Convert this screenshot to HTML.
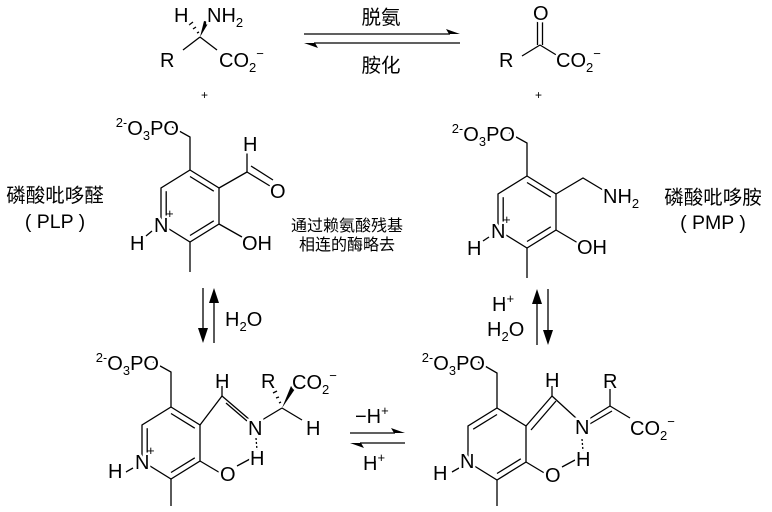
<!DOCTYPE html>
<html><head><meta charset="utf-8"><style>
html,body{margin:0;padding:0;background:#fff;}
svg{display:block;}
text{font-family:"Liberation Sans","Noto Sans CJK SC",sans-serif;fill:#000;}
.a{font-size:20px;stroke:#fff;stroke-width:5px;paint-order:stroke;}
.s{font-size:13px;}
.c{font-size:19.5px;}
.c2{font-size:16px;}
line,polyline,polygon.r{stroke:#000;stroke-width:1.3;fill:none;}
</style></head><body>
<svg width="772" height="512" viewBox="0 0 772 512" xmlns="http://www.w3.org/2000/svg">
<defs>
<g id="ring">
<polygon class="r" points="0,-36 29,-18 29,18 0,36 -29,18 -29,-18"/>
</g>
</defs>

<!-- ===== Top row ===== -->
<line x1="200" y1="37" x2="183" y2="50"/>
<line x1="200" y1="37" x2="217" y2="50"/>
<polygon points="200,37 204,21 209,22" fill="#000"/>
<g stroke="#000" stroke-width="1.2">
<line x1="197" y1="33" x2="199" y2="32"/><line x1="193" y1="29" x2="196" y2="27"/><line x1="189" y1="25" x2="193" y2="22"/>
</g>
<text class="a" x="160" y="67">R</text>
<text class="a" x="219" y="67">CO<tspan class="s" dy="5">2</tspan><tspan class="s" dy="-14">−</tspan></text>
<text class="a" x="174" y="22">H</text>
<text class="a" x="207" y="22">NH<tspan class="s" dy="5">2</tspan></text>
<text x="201" y="99" style="font-size:12px">+</text>

<line x1="304" y1="34" x2="450" y2="34"/>
<polygon points="460,34 446,29 449,34" fill="#000"/>
<line x1="314" y1="43" x2="460" y2="43"/>
<polygon points="304,43 318,48 315,43" fill="#000"/>
<text class="c" x="381" y="24" text-anchor="middle">脱氨</text>
<text class="c" x="381" y="72" text-anchor="middle">胺化</text>

<line x1="540" y1="45" x2="522" y2="56"/>
<line x1="540" y1="45" x2="558" y2="56"/>
<line x1="537.5" y1="45" x2="537.5" y2="21"/>
<line x1="542.5" y1="45" x2="542.5" y2="21"/>
<text class="a" x="533" y="20">O</text>
<text class="a" x="499" y="67">R</text>
<text class="a" x="556" y="67">CO<tspan class="s" dy="5">2</tspan><tspan class="s" dy="-14">−</tspan></text>
<text x="535" y="99" style="font-size:12px">+</text>

<!-- ===== PLP ===== -->
<use href="#ring" x="190" y="206"/>
<g transform="translate(190,206)">
<line x1="-23.8" y1="-14.8" x2="-23.8" y2="14.8"/>
<line x1="0" y1="-29.5" x2="23.8" y2="-14.8"/>
<line x1="23.8" y1="14.8" x2="0" y2="29.5"/>
</g>
<polyline points="190,170 190,137 172,127"/>
<line x1="219" y1="188" x2="247" y2="172"/>
<line x1="247" y1="172" x2="247" y2="152"/>
<line x1="247" y1="172" x2="270" y2="186"/>
<line x1="251" y1="166" x2="273" y2="180"/>
<line x1="219" y1="224" x2="242" y2="237"/>
<line x1="190" y1="242" x2="190" y2="272"/>
<line x1="152" y1="231" x2="146" y2="236"/>
<text class="a" x="179" y="135" text-anchor="end"><tspan class="s" dy="-8">2-</tspan><tspan dy="8">O</tspan><tspan class="s" dy="5">3</tspan><tspan dy="-5">PO</tspan></text>
<text class="a" x="243" y="151">H</text>
<text class="a" x="270" y="198">O</text>
<text class="a" x="242" y="250">OH</text>
<text class="a" x="154" y="232">N</text>
<text class="s" x="166" y="218">+</text>
<text class="a" x="130" y="250">H</text>
<text class="c" x="55" y="202" text-anchor="middle">磷酸吡哆醛</text>
<text class="c" x="55" y="228" text-anchor="middle">( PLP )</text>
<text class="c2" x="347" y="231" text-anchor="middle">通过赖氨酸残基</text>
<text class="c2" x="347" y="250" text-anchor="middle">相连的酶略去</text>

<!-- ===== PMP ===== -->
<use href="#ring" x="527" y="212"/>
<g transform="translate(527,212)">
<line x1="-23.8" y1="-14.8" x2="-23.8" y2="14.8"/>
<line x1="0" y1="-29.5" x2="23.8" y2="-14.8"/>
<line x1="23.8" y1="14.8" x2="0" y2="29.5"/>
</g>
<polyline points="527,176 527,143 509,133"/>
<polyline points="556,194 583,178 603,190"/>
<line x1="556" y1="230" x2="578" y2="243"/>
<line x1="527" y1="248" x2="527" y2="278"/>
<line x1="489" y1="237" x2="483" y2="241"/>
<text class="a" x="515" y="141" text-anchor="end"><tspan class="s" dy="-8">2-</tspan><tspan dy="8">O</tspan><tspan class="s" dy="5">3</tspan><tspan dy="-5">PO</tspan></text>
<text class="a" x="603" y="203">NH<tspan class="s" dy="5">2</tspan></text>
<text class="a" x="577" y="254">OH</text>
<text class="a" x="491" y="238">N</text>
<text class="s" x="503" y="224">+</text>
<text class="a" x="467" y="255">H</text>
<text class="c" x="713" y="204" text-anchor="middle">磷酸吡哆胺</text>
<text class="c" x="713" y="229" text-anchor="middle">( PMP )</text>

<!-- vertical arrows -->
<line x1="203" y1="288" x2="203" y2="332"/>
<polygon points="203,343 198,328 208,328" fill="#000"/>
<line x1="214" y1="343" x2="214" y2="299"/>
<polygon points="214,288 209,303 219,303" fill="#000"/>
<text class="a" x="225" y="326">H<tspan class="s" dy="5">2</tspan><tspan dy="-5">O</tspan></text>

<line x1="537" y1="345" x2="537" y2="300"/>
<polygon points="537,289 532,304 542,304" fill="#000"/>
<line x1="548" y1="289" x2="548" y2="334"/>
<polygon points="548,345 543,330 553,330" fill="#000"/>
<text class="a" x="492" y="311">H<tspan class="s" dy="-8">+</tspan></text>
<text class="a" x="487" y="336">H<tspan class="s" dy="5">2</tspan><tspan dy="-5">O</tspan></text>

<!-- ===== Bottom-left ===== -->
<use href="#ring" x="171" y="443"/>
<g transform="translate(171,443)">
<line x1="-23.8" y1="-14.8" x2="-23.8" y2="14.8"/>
<line x1="0" y1="-29.5" x2="23.8" y2="-14.8"/>
<line x1="23.8" y1="14.8" x2="0" y2="29.5"/>
</g>
<polyline points="171,407 171,372 153,362"/>
<line x1="200" y1="425" x2="222" y2="396"/>
<line x1="222" y1="396" x2="222" y2="386"/>
<line x1="222" y1="396" x2="250" y2="420"/>
<line x1="226" y1="403" x2="247" y2="421"/>
<line x1="262" y1="420" x2="282" y2="408"/>
<polygon points="282,408 291,386 295,389" fill="#000"/>
<g stroke="#000" stroke-width="1.2">
<line x1="279" y1="403" x2="281" y2="402"/><line x1="276" y1="398" x2="279" y2="397"/><line x1="273" y1="393" x2="277" y2="391"/>
</g>
<line x1="282" y1="408" x2="302" y2="420"/>
<line x1="200" y1="461" x2="222" y2="474"/>
<line x1="237" y1="466" x2="250" y2="459"/>
<line x1="171" y1="479" x2="171" y2="506"/>
<line x1="133" y1="468" x2="126" y2="472"/>
<text class="a" x="159" y="370" text-anchor="end"><tspan class="s" dy="-8">2-</tspan><tspan dy="8">O</tspan><tspan class="s" dy="5">3</tspan><tspan dy="-5">PO</tspan></text>
<text class="a" x="215" y="388">H</text>
<text class="a" x="248" y="435">N</text>
<text class="a" x="261" y="388">R</text>
<text class="a" x="292" y="389">CO<tspan class="s" dy="5">2</tspan><tspan class="s" dy="-14">−</tspan></text>
<text class="a" x="306" y="435">H</text>
<text class="a" x="250" y="465">H</text>
<text class="a" x="220" y="481">O</text>
<line x1="256" y1="438" x2="257" y2="450" stroke="#e03030" stroke-width="1.3" stroke-dasharray="2,2"/>
<text class="a" x="135" y="469">N</text>
<text class="s" x="147" y="455">+</text>
<text class="a" x="108" y="478">H</text>

<!-- middle arrows -->
<text class="a" x="355" y="423">−H<tspan class="s" dy="-8">+</tspan></text>
<line x1="350" y1="433" x2="395" y2="433"/>
<polygon points="405,433 391,428 394,433" fill="#000"/>
<line x1="360" y1="443" x2="405" y2="443"/>
<polygon points="350,443 364,448 361,443" fill="#000"/>
<text class="a" x="363" y="470">H<tspan class="s" dy="-8">+</tspan></text>

<!-- ===== Bottom-right ===== -->
<use href="#ring" x="497" y="444"/>
<g transform="translate(497,444)">
<line x1="-23.8" y1="-14.8" x2="0" y2="-29.5"/>
<line x1="23.8" y1="14.8" x2="0" y2="29.5"/>
</g>
<polyline points="497,408 497,373 478,362"/>
<line x1="526" y1="426" x2="552" y2="396"/>
<line x1="531" y1="430" x2="556" y2="401"/>
<line x1="552" y1="396" x2="552" y2="386"/>
<line x1="552" y1="396" x2="576" y2="418"/>
<line x1="589" y1="419" x2="610" y2="406"/>
<line x1="588" y1="425" x2="612" y2="411"/>
<line x1="610" y1="406" x2="610" y2="389"/>
<line x1="610" y1="406" x2="630" y2="418"/>
<line x1="526" y1="462" x2="546" y2="474"/>
<line x1="562" y1="467" x2="575" y2="460"/>
<line x1="497" y1="480" x2="497" y2="506"/>
<line x1="459" y1="468" x2="452" y2="472"/>
<text class="a" x="485" y="370" text-anchor="end"><tspan class="s" dy="-8">2-</tspan><tspan dy="8">O</tspan><tspan class="s" dy="5">3</tspan><tspan dy="-5">PO</tspan></text>
<text class="a" x="545" y="387">H</text>
<text class="a" x="575" y="434">N</text>
<text class="a" x="603" y="388">R</text>
<text class="a" x="630" y="435">CO<tspan class="s" dy="5">2</tspan><tspan class="s" dy="-14">−</tspan></text>
<text class="a" x="576" y="466">H</text>
<text class="a" x="545" y="482">O</text>
<line x1="582" y1="439" x2="583" y2="451" stroke="#e03030" stroke-width="1.3" stroke-dasharray="2,2"/>
<text class="a" x="460" y="468">N</text>
<text class="a" x="433" y="480">H</text>
</svg>
</body></html>
